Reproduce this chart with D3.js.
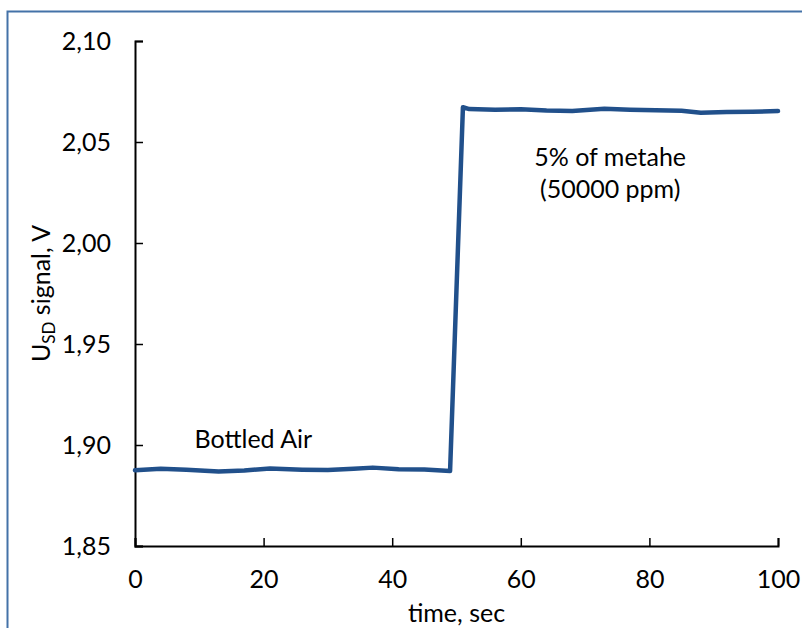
<!DOCTYPE html>
<html>
<head>
<meta charset="utf-8">
<script src="https://cdn.jsdelivr.net/npm/d3@7"></script>
<style>
  body { margin: 0; background: #fff; }
  text { font-family: Lato, "Open Sans", sans-serif; fill: #000; }
</style>
</head>
<body>
<div id="chart"></div>
<script>
// time in seconds, U_SD in volts
const times = [0, 4, 8, 13, 17, 21, 26, 30, 34, 37, 41, 45, 49, 51, 52, 56, 60, 64, 68, 73, 77, 81, 85, 88, 92, 96, 100];
const signal = [1.8875, 1.8883, 1.8878, 1.8869, 1.8874, 1.8884, 1.8878, 1.8876, 1.8882, 1.8888, 1.8880, 1.8879, 1.8871,
  2.0672, 2.0663, 2.0660, 2.0662, 2.0656, 2.0653, 2.0665, 2.0660, 2.0657, 2.0655, 2.0645, 2.0648, 2.0650, 2.0653];
const xTicks = [0, 20, 40, 60, 80, 100];
const yTicks = [1.85, 1.90, 1.95, 2.00, 2.05, 2.10];
const notes = [
  { t: 18.4, v: 1.8985, lines: ["Bottled Air"] },
  { t: 73.9, v: 2.0381, lines: ["5% of metahe", "(50000 ppm)"] }
];

const W = 802, H = 628;
const FS = 25;
const margin = { top: 41, right: 24, bottom: 82, left: 135 };
const width = W - margin.left - margin.right;
const height = H - margin.top - margin.bottom;

const svg = d3.select("#chart").append("svg")
  .attr("width", W)
  .attr("height", H);

// outer frame (runs off the page bottom/right)
svg.append("rect")
  .attr("x", 7.5).attr("y", 11.5)
  .attr("width", 900).attr("height", 800)
  .attr("fill", "none")
  .attr("stroke", "#4472a8")
  .attr("stroke-width", 2);

const g = svg.append("g")
  .attr("transform", `translate(${margin.left},${margin.top})`);

const x = d3.scaleLinear().domain([0, 100]).range([0, width]);
const y = d3.scaleLinear().domain([1.85, 2.10]).range([height, 0]);

const comma = v => d3.format(".2f")(v).replace(".", ",");

const xAxis = d3.axisBottom(x).tickValues(xTicks).tickSize(-8).tickPadding(0);
const yAxis = d3.axisLeft(y).tickValues(yTicks).tickFormat(comma).tickSize(-8).tickPadding(24);

const gx = g.append("g")
  .attr("transform", `translate(0,${height})`)
  .call(xAxis);
gx.selectAll("text").attr("y", 24).attr("dy", "0.71em");

const gy = g.append("g").call(yAxis);

[gx, gy].forEach(a => {
  a.select(".domain").attr("stroke", "#000").attr("stroke-width", 2);
  a.selectAll(".tick line").attr("stroke", "#000").attr("stroke-width", 1.5);
  a.selectAll("text").attr("font-size", FS).attr("font-family", "Lato, 'Open Sans', sans-serif").attr("fill", "#000");
});

const line = d3.line()
  .x((d, i) => x(times[i]))
  .y(d => y(d));

g.append("path")
  .datum(signal)
  .attr("d", line)
  .attr("fill", "none")
  .attr("stroke", "#21508b")
  .attr("stroke-width", 4.5)
  .attr("stroke-linejoin", "round")
  .attr("stroke-linecap", "round");

// annotations
notes.forEach(n => {
  const t = g.append("text")
    .attr("x", x(n.t))
    .attr("y", y(n.v))
    .attr("text-anchor", "middle")
    .attr("font-size", FS);
  n.lines.forEach((s, i) => {
    t.append("tspan").attr("x", x(n.t)).attr("dy", i ? 32 : 0).text(s);
  });
});

// axis titles
g.append("text")
  .attr("x", width / 2)
  .attr("y", height + 76)
  .attr("text-anchor", "middle")
  .attr("font-size", FS)
  .text("time, sec");

const yt = svg.append("text")
  .attr("transform", `translate(50,${margin.top + height / 2}) rotate(-90)`)
  .attr("text-anchor", "middle")
  .attr("font-size", FS);
yt.append("tspan").text("U");
yt.append("tspan").attr("font-size", 17).attr("dy", 5).text("SD");
yt.append("tspan").attr("dy", -5).text(" signal, V");
</script>
</body>
</html>
